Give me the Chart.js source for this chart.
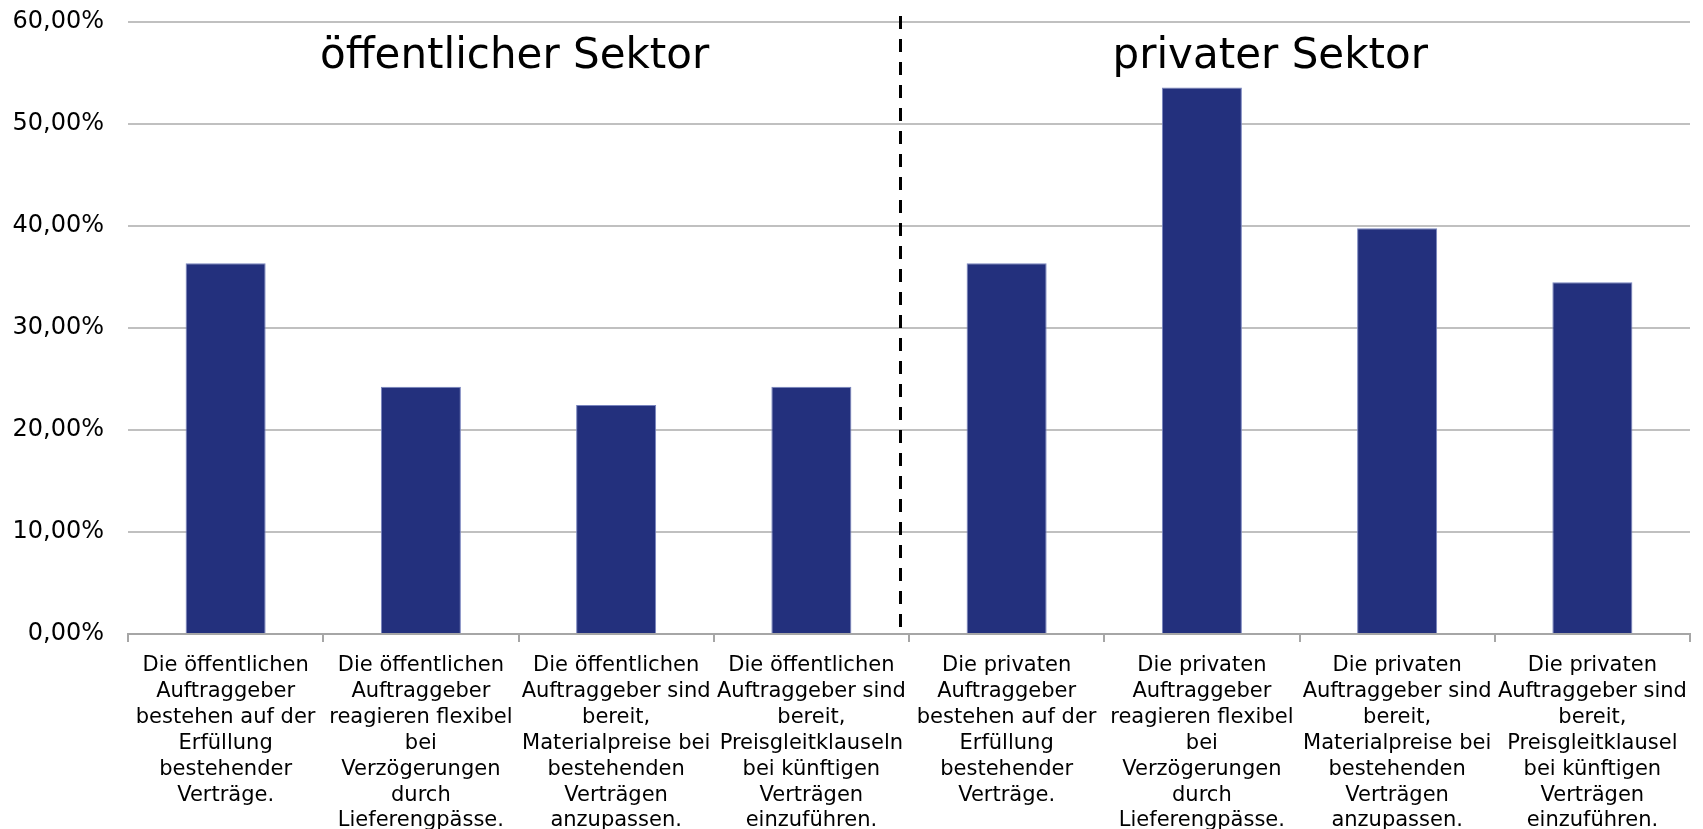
<!DOCTYPE html>
<html>
<head>
<meta charset="utf-8">
<script src="https://cdn.jsdelivr.net/npm/chart.js@4.4.1/dist/chart.umd.min.js"></script>
<style>
html,body{margin:0;padding:0;background:#fff;}
#wrap{width:1703px;height:829px;position:relative;}
</style>
</head>
<body>
<div id="wrap"><canvas id="c" width="1703" height="829"></canvas></div>
<script>
const categories = [
  ["Die öffentlichen","Auftraggeber","bestehen auf der","Erfüllung","bestehender","Verträge."],
  ["Die öffentlichen","Auftraggeber","reagieren flexibel","bei","Verzögerungen","durch","Lieferengpässe."],
  ["Die öffentlichen","Auftraggeber sind","bereit,","Materialpreise bei","bestehenden","Verträgen","anzupassen."],
  ["Die öffentlichen","Auftraggeber sind","bereit,","Preisgleitklauseln","bei künftigen","Verträgen","einzuführen."],
  ["Die privaten","Auftraggeber","bestehen auf der","Erfüllung","bestehender","Verträge."],
  ["Die privaten","Auftraggeber","reagieren flexibel","bei","Verzögerungen","durch","Lieferengpässe."],
  ["Die privaten","Auftraggeber sind","bereit,","Materialpreise bei","bestehenden","Verträgen","anzupassen."],
  ["Die privaten","Auftraggeber sind","bereit,","Preisgleitklausel","bei künftigen","Verträgen","einzuführen."]
];
const values = [36.36, 24.24, 22.45, 24.24, 36.36, 53.57, 39.77, 34.48];
const yTicks = [0, 10, 20, 30, 40, 50, 60];
const sectionTitles = ["öffentlicher Sektor", "privater Sektor"];
const sectionTitleAt = [1.48, 5.35];   // category-axis positions of the section titles
const dividerAt = 3.455;               // category-axis position of the dashed divider

const FONT = "'DejaVu Sans', Verdana, sans-serif";

const overlay = {
  id: 'overlay',
  afterDatasetsDraw(chart) {
    const ctx = chart.ctx, xs = chart.scales.x, ys = chart.scales.y;
    ctx.save();
    const xd = Math.round(xs.getPixelForValue(dividerAt)) + 0.5;
    ctx.strokeStyle = '#000';
    ctx.lineWidth = 3;
    ctx.setLineDash([13, 10]);
    ctx.beginPath();
    ctx.moveTo(xd, ys.top - 6);
    ctx.lineTo(xd, ys.bottom + 2);
    ctx.stroke();
    ctx.setLineDash([]);
    ctx.fillStyle = '#000';
    ctx.font = "42px " + FONT;
    ctx.textAlign = 'center';
    ctx.textBaseline = 'alphabetic';
    const yb = ys.getPixelForValue(55.5);
    sectionTitles.forEach((t, i) => {
      ctx.fillText(t, xs.getPixelForValue(sectionTitleAt[i]), yb);
    });
    ctx.restore();
  }
};

new Chart(document.getElementById('c'), {
  type: 'bar',
  data: {
    labels: categories,
    datasets: [{
      data: values,
      backgroundColor: 'rgb(35,48,125)',
      borderColor: 'rgb(120,132,190)',
      borderWidth: 1,
      barPercentage: 0.41,
      categoryPercentage: 1.0
    }]
  },
  options: {
    responsive: false,
    animation: false,
    devicePixelRatio: 1,
    layout: { padding: { left: 0, right: 13, top: 22, bottom: 0 } },
    plugins: { legend: { display: false }, tooltip: { enabled: false } },
    scales: {
      x: {
        grid: {
          offset: true,
          drawOnChartArea: false,
          drawTicks: true,
          tickLength: 8,
          color: '#a6a6a6',
          lineWidth: 2
        },
        border: { display: true, color: '#a6a6a6', width: 2 },
        ticks: {
          autoSkip: false,
          maxRotation: 0,
          minRotation: 0,
          color: '#000',
          padding: 11,
          font: { family: FONT, size: 21, lineHeight: 1.23 }
        },
        afterFit(scale) {
          scale.height = 195;
          scale.paddingLeft = 0; scale.paddingRight = 0;
          scale.paddingTop = 0; scale.paddingBottom = 0;
        }
      },
      y: {
        min: 0,
        max: 60,
        afterBuildTicks(scale) { scale.ticks = yTicks.map(v => ({ value: v })); },
        grid: { color: '#c0c0c0', lineWidth: 2, drawTicks: false },
        border: { display: false },
        ticks: {
          color: '#000',
          padding: 24,
          font: { family: FONT, size: 24 },
          callback: v => v.toFixed(2).replace('.', ',') + '%'
        },
        afterFit(scale) {
          scale.width = 128;
          scale.paddingTop = 0; scale.paddingBottom = 0;
          scale.paddingLeft = 0; scale.paddingRight = 0;
        }
      }
    }
  },
  plugins: [overlay]
});
</script>
</body>
</html>
